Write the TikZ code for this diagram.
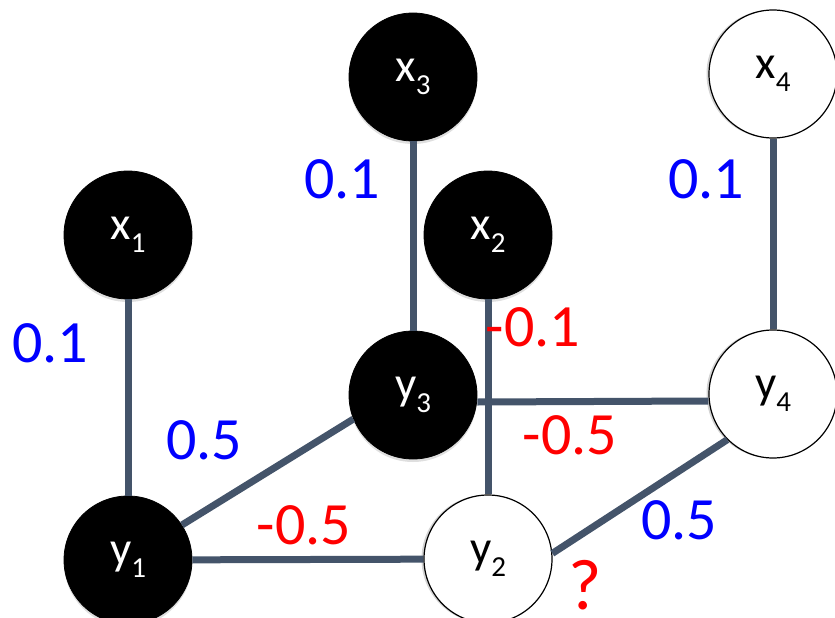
\documentclass[tikz,border=0pt]{standalone}
\usepackage{fontspec}
\setmainfont{Carlito}
\usetikzlibrary{shadows}
\definecolor{edgec}{HTML}{44546A}
\newcommand\sbs[1]{\raisebox{-0.27em}{\fontsize{29}{29}\selectfont #1}}
\begin{document}
\begin{tikzpicture}[x=1pt,y=-1pt,
  nd/.style={circle, minimum size=128pt, inner sep=0pt, font=\fontsize{47}{47}\selectfont},
  obs/.style={nd, fill=black, text=white, draw=black, line width=0.8pt,
    drop shadow={shadow xshift=0pt, shadow yshift=-3pt, opacity=0.25}},
  hid/.style={nd, fill=white, text=black, draw=black, line width=1.2pt,
    drop shadow={shadow xshift=-2.5pt, shadow yshift=0pt, opacity=0.35}},
  conn/.style={draw=edgec, line width=7pt},
  wlab/.style={inner sep=0pt, font=\fontsize{60}{60}\selectfont},
  wpos/.style={wlab, text=blue},
  wneg/.style={wlab, text=red},
]
\useasboundingbox (0,0) rectangle (835,618);
% nodes
\node[obs] (x3) at (413,77) {x\sbs{3}};
\node[hid] (x4) at (773,74) {x\sbs{4}};
\node[obs] (x1) at (128,235) {x\sbs{1}};
\node[obs] (x2) at (488,235) {x\sbs{2}};
\node[obs] (y3) at (413,395) {y\sbs{3}};
\node[hid] (y4) at (773,394) {y\sbs{4}};
\node[obs] (y1) at (128,560) {y\sbs{1}};
\node[hid] (y2) at (488,559) {y\sbs{2}};
% connectors
\draw[conn] (x1) -- (y1);
\draw[conn] (x3) -- (y3);
\draw[conn] (x4) -- (y4);
\draw[conn] ([yshift=-7pt]y3.east) -- ([yshift=-7pt]y4.west);
\draw[conn] (x2) -- (y2);
\draw[conn] (y1) -- (y2);
\draw[conn] (y1.33) -- (y3.202);
\draw[conn] (y2.5) -- (y4.225);
% labels
\node[wpos] (l1) at (50,343) {0.1};
\node[wpos] (l2) at (342,179) {0.1};
\node[wpos] (l3) at (706,179) {0.1};
\node[wneg] (l4) at (533,327) {-0.1};
\node[wpos] (l5) at (204,440) {0.5};
\node[wneg] (l6) at (570,435) {-0.5};
\node[wneg] (l7) at (304,525) {-0.5};
\node[wpos] (l8) at (679,520) {0.5};
\node[wneg, font=\fontsize{72}{72}\selectfont] (l9) at (585,585) {?};
\end{tikzpicture}
\end{document}
